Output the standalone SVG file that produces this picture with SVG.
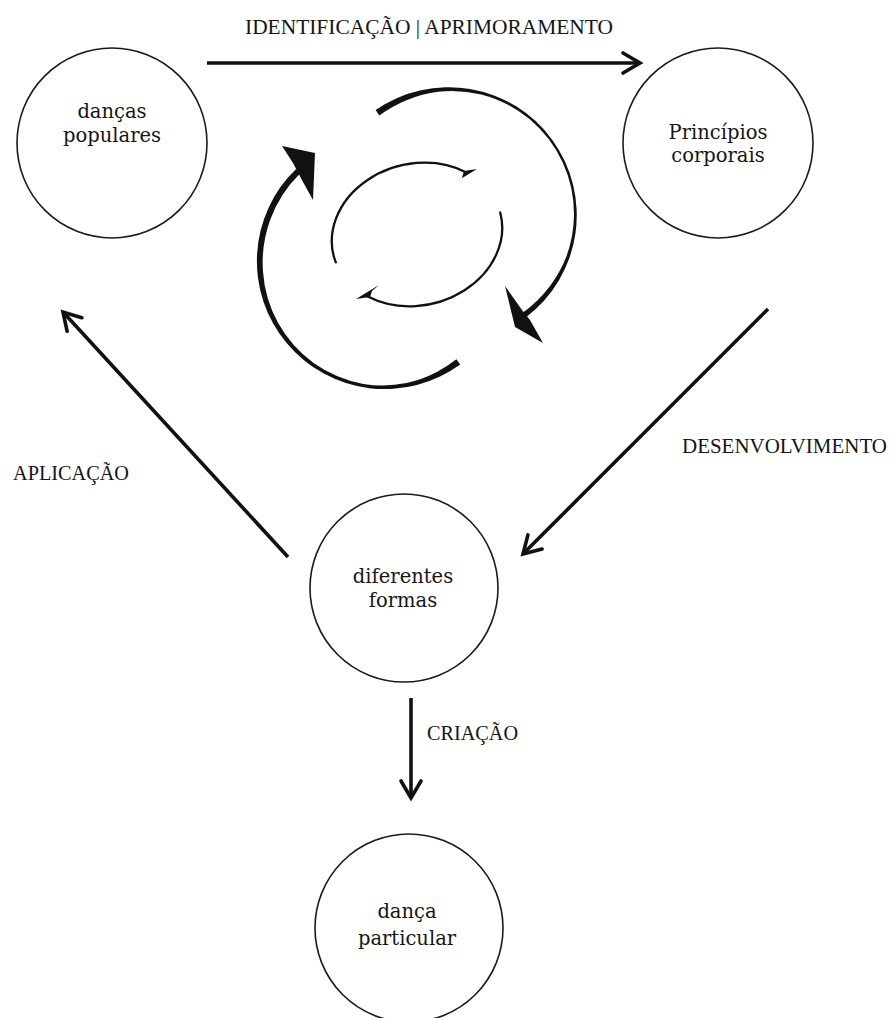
<svg xmlns="http://www.w3.org/2000/svg" width="892" height="1018" viewBox="0 0 892 1018">
<style>
.node{fill:#fff;stroke:#1a1a1a;stroke-width:1.6}
.nt{font-family:"DejaVu Serif","Liberation Serif",serif;font-size:19.5px;fill:#151515;text-anchor:middle}
.lbl{font-family:"Liberation Serif","DejaVu Serif",serif;font-size:20.5px;fill:#151515}
.conn{fill:none;stroke:#111;stroke-width:3.6;marker-end:url(#ah)}
.cyc{fill:#111;stroke:none}
.thin{fill:none;stroke:#111;stroke-width:2.3;stroke-linecap:round}
</style>
<defs>
<marker id="ah" viewBox="-22 -14 27 28" markerWidth="27" markerHeight="28" refX="0" refY="0" orient="auto" markerUnits="userSpaceOnUse">
<path d="M-17,-10 L0,0 L-17,10" fill="none" stroke="#111" stroke-width="3.6" stroke-linecap="round" stroke-linejoin="miter"/>
</marker>
</defs>
<rect width="892" height="1018" fill="#fff"/>

<g id="connectors">
<path class="conn" d="M207,63 L640,63"/>
<path class="conn" d="M288,557 L63,312"/>
<path class="conn" d="M768,309 L523,554"/>
<path class="conn" d="M411,698 L411,798"/>
</g>

<g id="labels">
<text class="lbl" x="245" y="34" textLength="368" lengthAdjust="spacingAndGlyphs">IDENTIFICAÇÃO | APRIMORAMENTO</text>
<text class="lbl" x="13" y="480" textLength="116" lengthAdjust="spacingAndGlyphs">APLICAÇÃO</text>
<text class="lbl" x="682" y="453" textLength="205" lengthAdjust="spacingAndGlyphs">DESENVOLVIMENTO</text>
<text class="lbl" x="427" y="740" textLength="91" lengthAdjust="spacingAndGlyphs">CRIAÇÃO</text>
</g>

<g id="cycle">
<path class="cyc" d="M375.6,110.1 A128,128 0 0 1 526.0,317.2 L522.7,312.8 A125,125 0 0 0 550.2,285.8 A125,125 0 0 0 566.0,257.6 A125,125 0 0 0 574,215 A125,125 0 0 0 562.5,162.1 A125,125 0 0 0 529.5,119.1 A125,125 0 0 0 481.3,94.5 A125,125 0 0 0 438.2,91.7 A125,125 0 0 0 407.1,99.9 A125,125 0 0 0 379.3,115.5 Z"/>
<polygon class="cyc" points="505,286 515,327 543,343 530,320 522,310"/>
<path class="cyc" d="M460.2,364.6 A128,128 0 0 1 296.1,168.9 L300.3,173.2 A125,125 0 0 0 270.4,219.3 A125,125 0 0 0 263.0,271.7 A125,125 0 0 0 278.0,322.8 A125,125 0 0 0 313.6,363.0 A125,125 0 0 0 363.3,383.9 A125,125 0 0 0 406.5,383.1 A125,125 0 0 0 436.8,372.0 A125,125 0 0 0 456.4,359.3 Z"/>
<polygon class="cyc" points="282,146 315,153 313,200 303,182 293,163"/>
<path class="thin" d="M335.8,262.4 A86,71 -14 0 1 466.4,172.4"/>
<polygon class="cyc" points="477,169 454,183 462,178 464,171"/>
<path class="thin" d="M500.2,212.5 A86,71 -14 0 1 367.8,296.6"/>
<polygon class="cyc" points="356,299 379,285 372,291 370,297"/>
</g>

<g id="node-dancas-populares">
<circle class="node" cx="112" cy="143" r="95"/>
<text class="nt" x="112" y="118">danças</text>
<text class="nt" x="112" y="142">populares</text>
</g>
<g id="node-principios-corporais">
<circle class="node" cx="718" cy="143" r="95"/>
<text class="nt" x="718" y="139">Princípios</text>
<text class="nt" x="718" y="162">corporais</text>
</g>
<g id="node-diferentes-formas">
<circle class="node" cx="404" cy="588" r="94"/>
<text class="nt" x="403" y="583">diferentes</text>
<text class="nt" x="403" y="607">formas</text>
</g>
<g id="node-danca-particular">
<circle class="node" cx="409" cy="928" r="94"/>
<text class="nt" x="407" y="918">dança</text>
<text class="nt" x="407" y="945">particular</text>
</g>
</svg>
